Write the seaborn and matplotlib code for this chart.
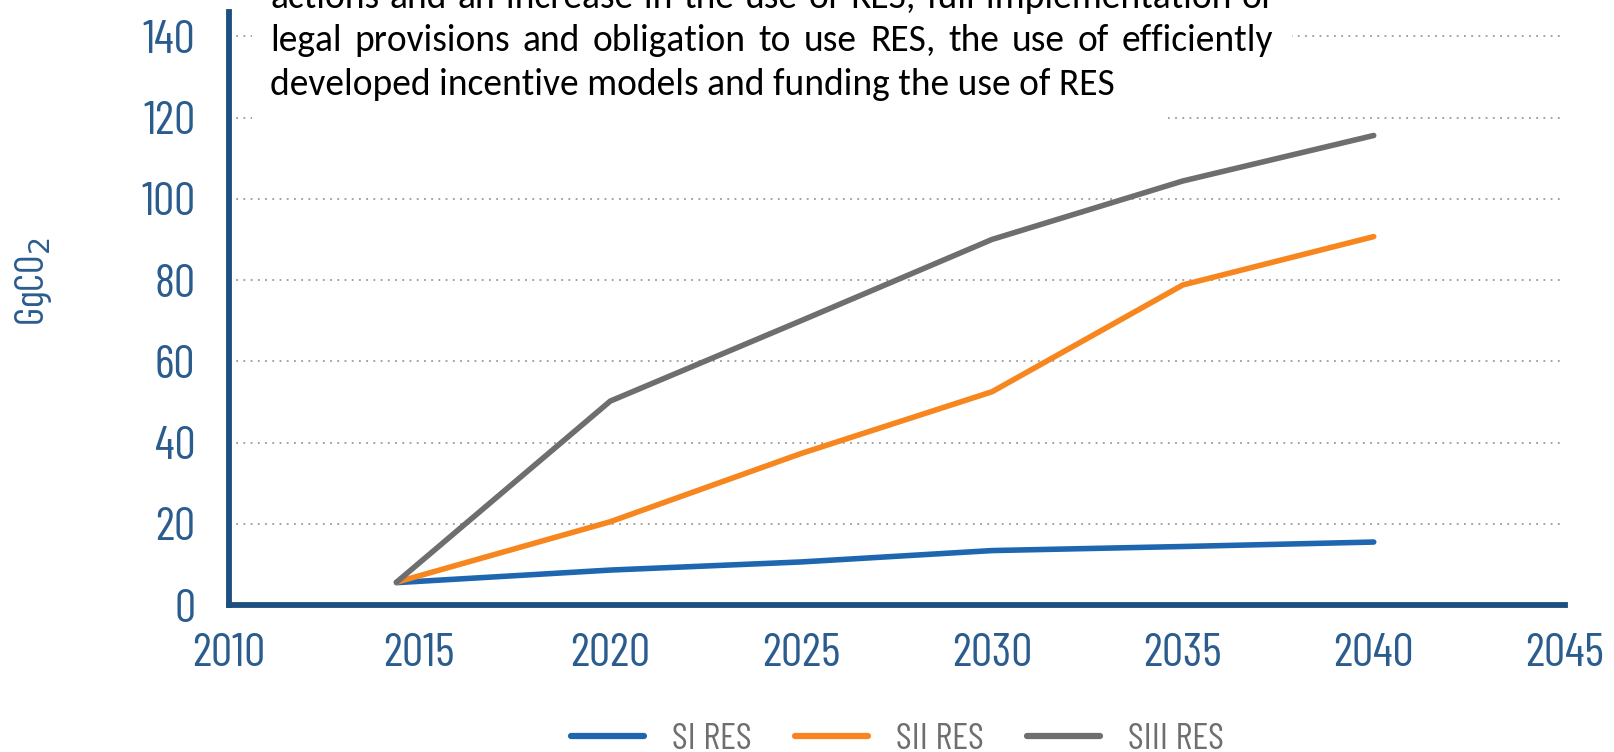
import numpy as np
import pandas as pd
import matplotlib
matplotlib.use("Agg")
import matplotlib.pyplot as plt
import seaborn as sns
from matplotlib.patches import Rectangle

# dữ liệu
years = [2014.4, 2020, 2025, 2030, 2035, 2040]
si_res = [5.5, 8.6, 10.6, 13.4, 14.4, 15.5]
sii_res = [5.6, 20.5, 37.3, 52.5, 78.8, 90.7]
siii_res = [5.6, 50.2, 70.0, 90.0, 104.4, 115.6]
series_names = ["SI RES", "SII RES", "SIII RES"]
x_ticks = [2010, 2015, 2020, 2025, 2030, 2035, 2040, 2045]
y_ticks = [0, 20, 40, 60, 80, 100, 120, 140]
note_lines = [
    "actions and an increase in the use of RES, full implementation of",
    "legal provisions and obligation to use RES, the use of efficiently",
    "developed incentive models and funding the use of RES",
]

df = pd.DataFrame({
    "year": years * 3,
    "value": si_res + sii_res + siii_res,
    "scenario": [series_names[0]] * 6 + [series_names[1]] * 6 + [series_names[2]] * 6,
})

sns.set_style("white")
narrow = ["Barlow Condensed", "DejaVu Sans"]
plt.rcParams["font.family"] = narrow

W, H = 1614, 752
axis_col = "#1d4f7f"
label_col = "#2b5c8e"
palette = {"SI RES": "#1f66b0", "SII RES": "#f7861e", "SIII RES": "#6d6e70"}

fig = plt.figure(figsize=(W / 100, H / 100), dpi=100)
ax = fig.add_axes([228.5 / W, 1 - 605 / H, (1564.6 - 228.5) / W, (605 - 12) / H])

sns.lineplot(data=df, x="year", y="value", hue="scenario", palette=palette,
             linewidth=4, ax=ax, legend=False)

ax.set_xlim(2010, 2045)
ax.set_ylim(0, 146)
ax.set_xticks(x_ticks)
ax.set_yticks(y_ticks)
ax.set_xlabel("")
ax.set_ylabel("")
ax.set_axisbelow(True)
ax.yaxis.grid(True, linestyle=(0, (1, 3)), color="#9a9a9a", linewidth=1.3)
for s in ["top", "right"]:
    ax.spines[s].set_visible(False)
for s in ["left", "bottom"]:
    ax.spines[s].set_color(axis_col)
    ax.spines[s].set_linewidth(4.2)
ax.tick_params(axis="x", direction="out", length=13, width=3.6, color=axis_col,
               pad=7, labelsize=34, labelcolor=label_col)
ax.tick_params(axis="y", length=0, pad=24, labelsize=34, labelcolor=label_col)

fig.text(0.021, 0.625, "GgCO$_2$", rotation=90, ha="center", va="center",
         fontsize=29, color=label_col)

# hộp chữ trắng che lưới
fig.patches.append(Rectangle((252 / W, 1 - 100 / H), (1292 - 252) / W, 100 / H,
                             transform=fig.transFigure, facecolor="white",
                             edgecolor="none", zorder=2))
fig.patches.append(Rectangle((252 / W, 1 - 125 / H), (1168 - 252) / W, 26 / H,
                             transform=fig.transFigure, facecolor="white",
                             edgecolor="none", zorder=2))

# chữ canh đều hai bên
renderer = fig.canvas.get_renderer()
x0, x1 = 270, 1273
baselines = [8, 51, 95]
tkw = dict(fontsize=27, family=["Carlito", "Lato", "DejaVu Sans"], color="black",
           va="baseline", ha="left", zorder=3)
for i, (line, yb) in enumerate(zip(note_lines, baselines)):
    if i < 2:
        words = line.split(" ")
        texts = [fig.text(0, 1 - yb / H, w, **tkw) for w in words]
        widths = [t.get_window_extent(renderer).width for t in texts]
        gap = (x1 - x0 - sum(widths)) / (len(words) - 1)
        x = x0
        for t, w in zip(texts, widths):
            t.set_position((x / W, 1 - yb / H))
            x += w + gap
    else:
        fig.text(x0 / W, 1 - yb / H, line, **tkw)

handles = [plt.Line2D([], [], color=palette[n], linewidth=4.5) for n in series_names]
leg = fig.legend(handles, series_names, loc="center", bbox_to_anchor=(0.556, 0.017),
                 ncol=3, frameon=False, fontsize=27, handlelength=1.95,
                 handletextpad=0.75, columnspacing=1.15)
for t in leg.get_texts():
    t.set_color("#6d6e70")

fig.savefig("out.png", dpi=100)
